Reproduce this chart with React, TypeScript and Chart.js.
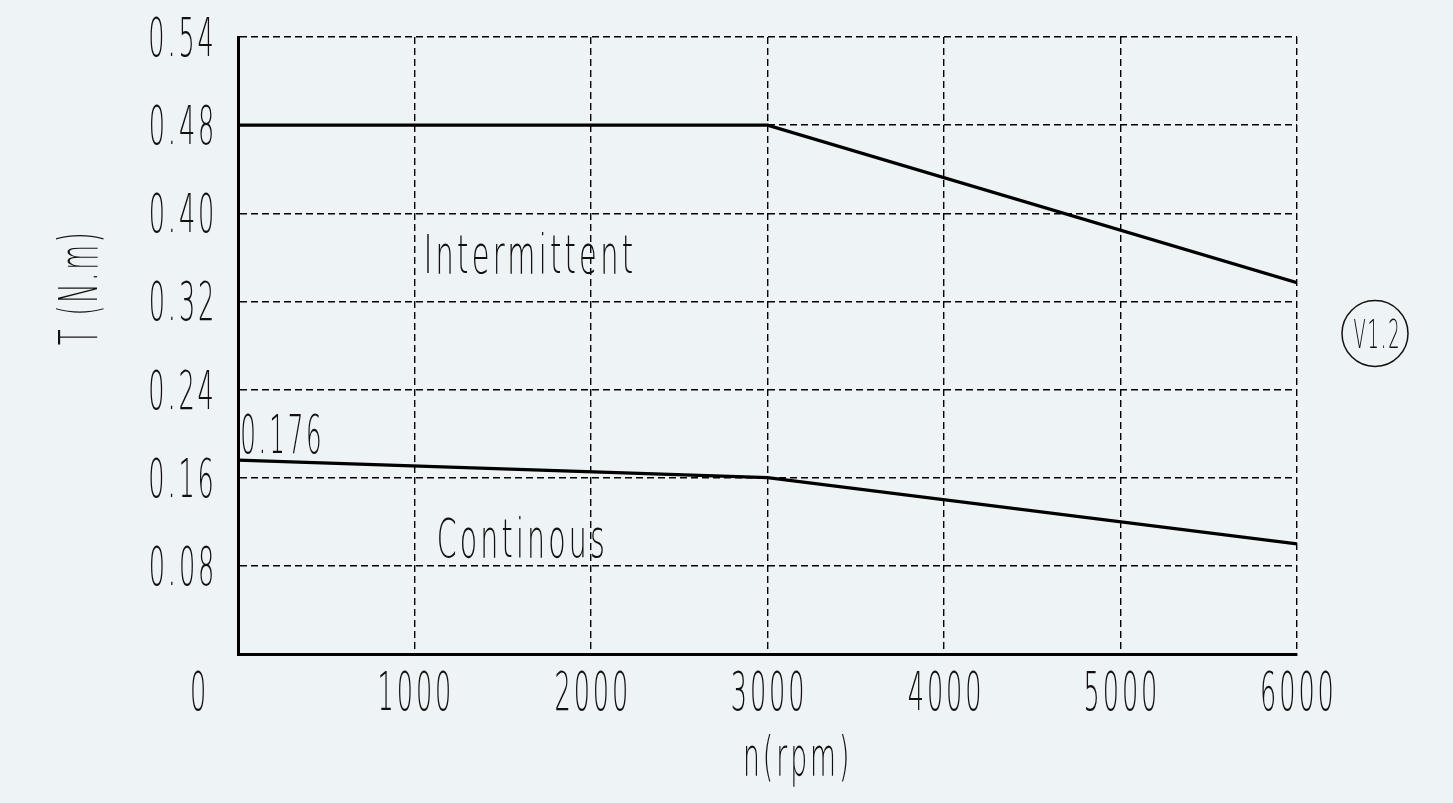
import { useEffect, useRef } from 'react';
import { Chart, registerables } from 'chart.js';

Chart.register(...registerables);

// Speed axis (rpm)
const speedTicks = [0, 1000, 2000, 3000, 4000, 5000, 6000];
const speedTickLabels = ['0', '1000', '2000', '3000', '4000', '5000', '6000'];

// Torque axis (N.m) – the top grid line carries the rated peak label
const torqueTicks = [0, 0.08, 0.16, 0.24, 0.32, 0.4, 0.48, 0.56];
const torqueTickLabels = ['', '0.08', '0.16', '0.24', '0.32', '0.40', '0.48', '0.54'];

// Torque-speed curves
const speedPoints = [0, 3000, 6000];
const intermittentTorque = [0.48, 0.48, 0.337];
const continuousTorque = [0.176, 0.16, 0.1];

const intermittentLabel = 'Intermittent';
const continuousLabel = 'Continous';
const xTitle = 'n(rpm)';
const yTitle = 'T (N.m)';
const versionTag = 'V1.2';

const BG = '#eef3f6';
const INK = '#111';
const FONT_FAMILY = "'DejaVu Sans', 'Liberation Sans', sans-serif";

type Align = 'left' | 'center' | 'right';

function setFont(ctx: CanvasRenderingContext2D, size: number) {
  ctx.font = `200 ${size}px ${FONT_FAMILY}`;
  (ctx as any).letterSpacing = `${Math.round(size * 0.11)}px`;
}

// Draws condensed, spaced text: the glyphs are squeezed horizontally so that
// the ink either spans `width` pixels or is scaled by `sx`.
function drawText(
  ctx: CanvasRenderingContext2D,
  text: string,
  x: number,
  y: number,
  size: number,
  align: Align,
  opts: { width?: number; sx?: number; rotate?: number } = {}
) {
  ctx.save();
  setFont(ctx, size);
  ctx.fillStyle = INK;
  ctx.textAlign = 'left';
  ctx.textBaseline = 'alphabetic';
  const m = ctx.measureText(text);
  const bl = m.actualBoundingBoxLeft;
  const br = m.actualBoundingBoxRight;
  const ink = bl + br;
  const sx = opts.width ? opts.width / ink : opts.sx ?? 1;
  ctx.translate(x, y);
  if (opts.rotate) ctx.rotate(opts.rotate);
  ctx.scale(sx, 1);
  let dx = 0;
  if (align === 'left') dx = bl;
  else if (align === 'right') dx = -br;
  else dx = (bl - br) / 2;
  ctx.fillText(text, dx, 0);
  ctx.restore();
}

function tickScale(ctx: CanvasRenderingContext2D, size: number) {
  ctx.save();
  setFont(ctx, size);
  const m = ctx.measureText('1000');
  ctx.restore();
  return 69 / (m.actualBoundingBoxLeft + m.actualBoundingBoxRight);
}

const labelsPlugin = {
  id: 'drawingLabels',
  afterDraw(chart: any) {
    const ctx: CanvasRenderingContext2D = chart.ctx;
    const xs = chart.scales.x;
    const ys = chart.scales.y;
    const area = chart.chartArea;
    const size = 53;
    const sx = tickScale(ctx, size);

    // x tick labels
    speedTicks.forEach((v, i) => {
      const px = xs.getPixelForValue(v) + (v === 0 ? -40 : 0);
      drawText(ctx, speedTickLabels[i], px, area.bottom + 56, size, 'center', { sx });
    });

    // y tick labels
    torqueTicks.forEach((v, i) => {
      const label = torqueTickLabels[i];
      if (!label) return;
      const py = ys.getPixelForValue(v);
      drawText(ctx, label, area.left - 26, py + 19, size, 'right', { sx });
    });

    // axis titles
    drawText(ctx, xTitle, (area.left + area.right) / 2 + 29, area.bottom + 121, size, 'center', { width: 101 });
    drawText(ctx, yTitle, area.left - 141, (area.top + area.bottom) / 2 - 56, size, 'center', {
      width: 110,
      rotate: -Math.PI / 2,
    });

    // curve names
    drawText(ctx, intermittentLabel, xs.getPixelForValue(1071), ys.getPixelForValue(0.3455), size, 'left', { width: 205 });
    drawText(ctx, continuousLabel, xs.getPixelForValue(1138), ys.getPixelForValue(0.0882), size, 'left', { width: 164 });

    // stated value at the origin of the continuous curve
    const startY = ys.getPixelForValue(continuousTorque[0]);
    drawText(ctx, String(continuousTorque[0]), area.left + 4, startY - 7, size, 'left', { width: 78 });

    // revision tag in a circle
    const cx = area.right + 78;
    const cy = (area.top + area.bottom) / 2 - 12;
    ctx.save();
    ctx.strokeStyle = INK;
    ctx.lineWidth = 1.5;
    ctx.beginPath();
    ctx.arc(cx, cy, 33, 0, Math.PI * 2);
    ctx.stroke();
    ctx.restore();
    drawText(ctx, versionTag, cx + 1, cy + 14, 39, 'center', { width: 44 });
  },
};

export default function App() {
  const canvasRef = useRef<HTMLCanvasElement | null>(null);

  useEffect(() => {
    const canvas = canvasRef.current;
    if (!canvas) return;

    const lineStyle = {
      borderColor: '#000',
      borderWidth: 3.2,
      pointRadius: 0,
      tension: 0,
      fill: false,
    };

    const gridStyle = { color: '#000', lineWidth: 1.4, drawTicks: false };
    const borderStyle = { display: true, color: '#000', width: 3, dash: [7, 4] };

    const chart = new Chart(canvas, {
      type: 'line',
      data: {
        datasets: [
          {
            label: intermittentLabel,
            data: speedPoints.map((x, i) => ({ x, y: intermittentTorque[i] })),
            ...lineStyle,
          },
          {
            label: continuousLabel,
            data: speedPoints.map((x, i) => ({ x, y: continuousTorque[i] })),
            ...lineStyle,
          },
        ],
      },
      options: {
        animation: false,
        responsive: true,
        maintainAspectRatio: false,
        layout: { padding: { left: 0, top: 37, right: 156, bottom: 0 } },
        plugins: {
          legend: { display: false },
          tooltip: { enabled: false },
        },
        scales: {
          x: {
            type: 'linear',
            min: 0,
            max: 6000,
            afterBuildTicks: (scale: any) => {
              scale.ticks = speedTicks.map((value) => ({ value }));
            },
            afterFit: (scale: any) => {
              scale.height = 149;
            },
            ticks: { display: false },
            grid: gridStyle,
            border: borderStyle,
          },
          y: {
            type: 'linear',
            min: 0,
            max: 0.56,
            afterBuildTicks: (scale: any) => {
              scale.ticks = torqueTicks.map((value) => ({ value }));
            },
            afterFit: (scale: any) => {
              scale.width = 238;
            },
            ticks: { display: false },
            grid: gridStyle,
            border: borderStyle,
          },
        },
      },
      plugins: [labelsPlugin],
    } as any);

    return () => chart.destroy();
  }, []);

  return (
    <div
      style={{
        position: 'absolute',
        left: 0,
        top: 0,
        width: 1453,
        height: 803,
        background: BG,
      }}
    >
      <canvas ref={canvasRef} />
    </div>
  );
}
